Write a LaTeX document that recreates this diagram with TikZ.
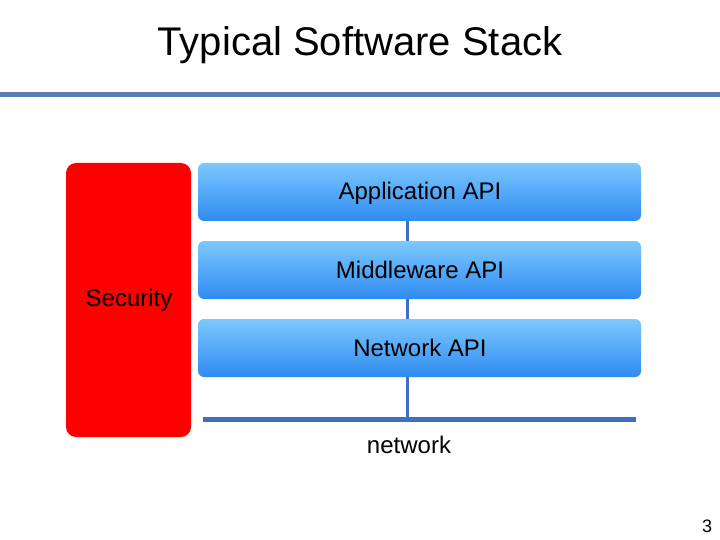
\documentclass[tikz,border=0pt]{standalone}
\usepackage{fontspec}
\setmainfont{Liberation Sans}
\begin{document}
\begin{tikzpicture}[x=1pt,y=-1pt,
  layer/.style={rounded corners=6pt,top color=blueTop,bottom color=blueBot,draw=none},
  lbl/.style={font=\fontsize{24}{28}\selectfont,inner sep=0pt},
  conn/.style={draw=connBlue,line width=3pt}]
\definecolor{blueTop}{HTML}{7CC8FF}
\definecolor{blueBot}{HTML}{2E8BF0}
\definecolor{connBlue}{HTML}{3F6FC0}
\definecolor{ruleBlue}{HTML}{5B7DB8}
\useasboundingbox (0,0) rectangle (720,540);
\fill[white] (0,0) rectangle (720,540);
\node[inner sep=0pt,font=\fontsize{40}{46}\selectfont] (title) at (360,45) {Typical Software Stack};
\fill[ruleBlue] (0,92) rectangle (720,97);
\fill[red,rounded corners=10pt] (66,163) rectangle (191,437);
\node[lbl] (sec) at (129,300) {Security};
\path[layer] (198,163) rectangle (641,221);
\path[layer] (198,241) rectangle (641,299);
\path[layer] (198,319) rectangle (641,377);
\coordinate (a1) at (407,221); \coordinate (m0) at (407,241);
\coordinate (m1) at (407,299); \coordinate (n0) at (407,319);
\coordinate (n1) at (407,377); \coordinate (net) at (407,419);
\coordinate (nl) at (203,419); \coordinate (nr) at (636,419);
\draw[conn] (a1) -- (m0);
\draw[conn] (m1) -- (n0);
\draw[conn] (n1) -- (net);
\draw[draw=connBlue,line width=5pt] (nl) -- (nr);
\node[lbl] (app) at (420,193) {Application API};
\node[lbl] (mid) at (420,270) {Middleware API};
\node[lbl] (nap) at (420,348) {Network API};
\node[lbl] (nt) at (409,445) {network};
\node[inner sep=0pt,font=\fontsize{18}{20}\selectfont] (pg) at (707,526) {3};
\end{tikzpicture}
\end{document}
